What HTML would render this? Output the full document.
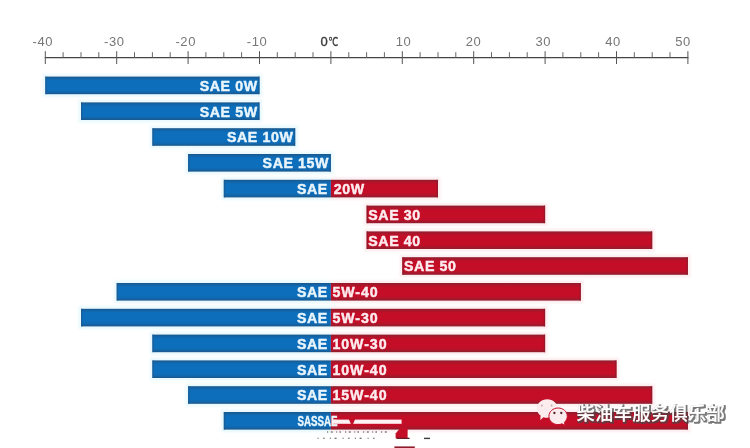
<!DOCTYPE html>
<html lang="zh">
<head>
<meta charset="utf-8">
<title>SAE</title>
<style>
html,body{margin:0;padding:0;background:#fff;}
body{width:750px;height:448px;overflow:hidden;position:relative;}
svg{display:block;position:absolute;left:0;top:0;filter:blur(0.45px);}
.lab{font-family:"Liberation Sans",sans-serif;font-weight:bold;font-size:14.2px;letter-spacing:0.6px;fill:#e9f5fb;stroke:#e9f5fb;stroke-width:0.45px;stroke-linejoin:round;}
.labr{fill:#fdecef;stroke:#fdecef;}
.ax{font-family:"Liberation Sans","Noto Sans CJK SC",sans-serif;font-size:13px;letter-spacing:0.6px;fill:#777;}
.wm{font-family:"Liberation Sans","Noto Sans CJK SC",sans-serif;font-size:18.3px;letter-spacing:0.3px;font-weight:500;fill:#fff;}
</style>
</head>
<body>
<svg width="750" height="448" viewBox="0 0 750 448">
<defs>
<linearGradient id="gb" x1="0" y1="0" x2="0" y2="1">
<stop offset="0" stop-color="#1b5689"/><stop offset="0.12" stop-color="#1266ab"/><stop offset="0.26" stop-color="#0d6fbc"/><stop offset="0.74" stop-color="#0d6fbc"/><stop offset="0.88" stop-color="#1266ab"/><stop offset="1" stop-color="#1b5689"/>
</linearGradient>
<linearGradient id="gr" x1="0" y1="0" x2="0" y2="1">
<stop offset="0" stop-color="#8c1e2e"/><stop offset="0.12" stop-color="#ad152a"/><stop offset="0.26" stop-color="#c40e27"/><stop offset="0.74" stop-color="#c40e27"/><stop offset="0.88" stop-color="#ad152a"/><stop offset="1" stop-color="#8c1e2e"/>
</linearGradient>
<filter id="ws" x="-3%" y="-20%" width="106%" height="140%">
<feMorphology in="SourceAlpha" operator="dilate" radius="0.75" result="d"/>
<feOffset in="d" dx="0.5" dy="0.6" result="o"/>
<feGaussianBlur in="o" stdDeviation="0.25" result="b"/>
<feFlood flood-color="#454545" flood-opacity="0.72"/>
<feComposite in2="b" operator="in" result="sh"/>
<feMerge><feMergeNode in="sh"/><feMergeNode in="SourceGraphic"/></feMerge>
</filter>
<filter id="hb" x="-5%" y="-40%" width="110%" height="180%"><feGaussianBlur stdDeviation="1.3"/></filter>
</defs>
<rect x="0" y="0" width="750" height="448" fill="#ffffff"/>

<g stroke="#555" stroke-width="1" fill="none">
<line x1="44.8" y1="57.6" x2="688.4" y2="57.6" stroke="#454545" stroke-width="1.2"/>
<line x1="45.3" y1="51.2" x2="45.3" y2="64"/>
<line x1="63.1" y1="52.2" x2="63.1" y2="57.6" stroke="#666" stroke-width="1"/>
<line x1="81.0" y1="52.2" x2="81.0" y2="57.6" stroke="#666" stroke-width="1"/>
<line x1="98.8" y1="52.2" x2="98.8" y2="57.6" stroke="#666" stroke-width="1"/>
<line x1="116.7" y1="51.2" x2="116.7" y2="64"/>
<line x1="134.5" y1="52.2" x2="134.5" y2="57.6" stroke="#666" stroke-width="1"/>
<line x1="152.4" y1="52.2" x2="152.4" y2="57.6" stroke="#666" stroke-width="1"/>
<line x1="170.2" y1="52.2" x2="170.2" y2="57.6" stroke="#666" stroke-width="1"/>
<line x1="188.1" y1="51.2" x2="188.1" y2="64"/>
<line x1="205.9" y1="52.2" x2="205.9" y2="57.6" stroke="#666" stroke-width="1"/>
<line x1="223.8" y1="52.2" x2="223.8" y2="57.6" stroke="#666" stroke-width="1"/>
<line x1="241.6" y1="52.2" x2="241.6" y2="57.6" stroke="#666" stroke-width="1"/>
<line x1="259.5" y1="51.2" x2="259.5" y2="64"/>
<line x1="277.3" y1="52.2" x2="277.3" y2="57.6" stroke="#666" stroke-width="1"/>
<line x1="295.2" y1="52.2" x2="295.2" y2="57.6" stroke="#666" stroke-width="1"/>
<line x1="313.0" y1="52.2" x2="313.0" y2="57.6" stroke="#666" stroke-width="1"/>
<line x1="330.9" y1="51.2" x2="330.9" y2="64"/>
<line x1="348.8" y1="52.2" x2="348.8" y2="57.6" stroke="#666" stroke-width="1"/>
<line x1="366.6" y1="52.2" x2="366.6" y2="57.6" stroke="#666" stroke-width="1"/>
<line x1="384.4" y1="52.2" x2="384.4" y2="57.6" stroke="#666" stroke-width="1"/>
<line x1="402.3" y1="51.2" x2="402.3" y2="64"/>
<line x1="420.1" y1="52.2" x2="420.1" y2="57.6" stroke="#666" stroke-width="1"/>
<line x1="438.0" y1="52.2" x2="438.0" y2="57.6" stroke="#666" stroke-width="1"/>
<line x1="455.8" y1="52.2" x2="455.8" y2="57.6" stroke="#666" stroke-width="1"/>
<line x1="473.7" y1="51.2" x2="473.7" y2="64"/>
<line x1="491.5" y1="52.2" x2="491.5" y2="57.6" stroke="#666" stroke-width="1"/>
<line x1="509.4" y1="52.2" x2="509.4" y2="57.6" stroke="#666" stroke-width="1"/>
<line x1="527.2" y1="52.2" x2="527.2" y2="57.6" stroke="#666" stroke-width="1"/>
<line x1="545.1" y1="51.2" x2="545.1" y2="64"/>
<line x1="562.9" y1="52.2" x2="562.9" y2="57.6" stroke="#666" stroke-width="1"/>
<line x1="580.8" y1="52.2" x2="580.8" y2="57.6" stroke="#666" stroke-width="1"/>
<line x1="598.6" y1="52.2" x2="598.6" y2="57.6" stroke="#666" stroke-width="1"/>
<line x1="616.5" y1="51.2" x2="616.5" y2="64"/>
<line x1="634.3" y1="52.2" x2="634.3" y2="57.6" stroke="#666" stroke-width="1"/>
<line x1="652.2" y1="52.2" x2="652.2" y2="57.6" stroke="#666" stroke-width="1"/>
<line x1="670.0" y1="52.2" x2="670.0" y2="57.6" stroke="#666" stroke-width="1"/>
<line x1="687.9" y1="51.2" x2="687.9" y2="64"/>
</g>
<text class="ax" x="53.2" y="46" text-anchor="end">-40</text>
<text class="ax" x="124.6" y="46" text-anchor="end">-30</text>
<text class="ax" x="196.0" y="46" text-anchor="end">-20</text>
<text class="ax" x="267.4" y="46" text-anchor="end">-10</text>
<text class="ax" x="320.6" y="46" style="fill:#3a3a3a;stroke:#3a3a3a;stroke-width:0.35px;letter-spacing:0">0<tspan font-size="11.4px" dx="0.9" textLength="9.6" lengthAdjust="spacingAndGlyphs">℃</tspan></text>
<text class="ax" x="403.6" y="46" text-anchor="middle">10</text>
<text class="ax" x="473.5" y="46" text-anchor="middle">20</text>
<text class="ax" x="543.3" y="46" text-anchor="middle">30</text>
<text class="ax" x="613.1" y="46" text-anchor="middle">40</text>
<text class="ax" x="683.0" y="46" text-anchor="middle">50</text>
<g filter="url(#hb)" opacity="0.55">
<rect x="42.8" y="74.1" width="219.2" height="22.6" fill="#d5f3fc"/>
<rect x="78.5" y="99.9" width="183.5" height="22.6" fill="#d5f3fc"/>
<rect x="149.9" y="125.7" width="147.8" height="22.6" fill="#d5f3fc"/>
<rect x="185.6" y="151.5" width="147.8" height="22.6" fill="#d5f3fc"/>
<rect x="221.3" y="177.3" width="109.6" height="22.6" fill="#d5f3fc"/>
<rect x="330.9" y="177.3" width="109.6" height="22.6" fill="#fbdde1"/>
<rect x="364.1" y="203.1" width="183.5" height="22.6" fill="#fbdde1"/>
<rect x="364.1" y="228.9" width="290.6" height="22.6" fill="#fbdde1"/>
<rect x="399.8" y="254.7" width="290.6" height="22.6" fill="#fbdde1"/>
<rect x="114.2" y="280.5" width="216.7" height="22.6" fill="#d5f3fc"/>
<rect x="330.9" y="280.5" width="252.4" height="22.6" fill="#fbdde1"/>
<rect x="78.5" y="306.3" width="252.4" height="22.6" fill="#d5f3fc"/>
<rect x="330.9" y="306.3" width="216.7" height="22.6" fill="#fbdde1"/>
<rect x="149.9" y="332.1" width="181.0" height="22.6" fill="#d5f3fc"/>
<rect x="330.9" y="332.1" width="216.7" height="22.6" fill="#fbdde1"/>
<rect x="149.9" y="357.9" width="181.0" height="22.6" fill="#d5f3fc"/>
<rect x="330.9" y="357.9" width="288.1" height="22.6" fill="#fbdde1"/>
<rect x="185.6" y="383.7" width="145.3" height="22.6" fill="#d5f3fc"/>
<rect x="330.9" y="383.7" width="323.8" height="22.6" fill="#fbdde1"/>
<rect x="221.3" y="409.5" width="109.6" height="22.6" fill="#d5f3fc"/>
<rect x="330.9" y="409.5" width="359.5" height="22.6" fill="#fbdde1"/>
</g>
<rect x="45.3" y="76.6" width="214.2" height="17.6" fill="url(#gb)"/>
<rect x="45.3" y="76.6" width="1.3" height="17.6" fill="#1e5a8e" opacity=".8"/>
<rect x="258.2" y="76.6" width="1.3" height="17.6" fill="#1e5a8e" opacity=".8"/>
<text class="lab" x="257.7" y="90.8" text-anchor="end">SAE 0W</text>
<rect x="81.0" y="102.4" width="178.5" height="17.6" fill="url(#gb)"/>
<rect x="81.0" y="102.4" width="1.3" height="17.6" fill="#1e5a8e" opacity=".8"/>
<rect x="258.2" y="102.4" width="1.3" height="17.6" fill="#1e5a8e" opacity=".8"/>
<text class="lab" x="257.7" y="116.6" text-anchor="end">SAE 5W</text>
<rect x="152.4" y="128.2" width="142.8" height="17.6" fill="url(#gb)"/>
<rect x="152.4" y="128.2" width="1.3" height="17.6" fill="#1e5a8e" opacity=".8"/>
<rect x="293.9" y="128.2" width="1.3" height="17.6" fill="#1e5a8e" opacity=".8"/>
<text class="lab" x="293.4" y="142.4" text-anchor="end">SAE 10W</text>
<rect x="188.1" y="154.0" width="142.8" height="17.6" fill="url(#gb)"/>
<rect x="188.1" y="154.0" width="1.3" height="17.6" fill="#1e5a8e" opacity=".8"/>
<rect x="329.6" y="154.0" width="1.3" height="17.6" fill="#1e5a8e" opacity=".8"/>
<text class="lab" x="329.1" y="168.2" text-anchor="end">SAE 15W</text>
<rect x="223.8" y="179.8" width="107.1" height="17.6" fill="url(#gb)"/>
<rect x="223.8" y="179.8" width="1.3" height="17.6" fill="#1e5a8e" opacity=".8"/>
<rect x="330.9" y="179.8" width="107.1" height="17.6" fill="url(#gr)"/>
<rect x="436.7" y="179.8" width="1.3" height="17.6" fill="#8a1c2c" opacity=".8"/>
<text class="lab" x="327.9" y="194.0" text-anchor="end">SAE</text>
<text class="lab labr" x="333.7" y="194.0">20W</text>
<rect x="366.6" y="205.6" width="178.5" height="17.6" fill="url(#gr)"/>
<rect x="543.8" y="205.6" width="1.3" height="17.6" fill="#8a1c2c" opacity=".8"/>
<rect x="366.6" y="205.6" width="1.3" height="17.6" fill="#8a1c2c" opacity=".8"/>
<text class="lab labr" x="368.3" y="219.8">SAE 30</text>
<rect x="366.6" y="231.4" width="285.6" height="17.6" fill="url(#gr)"/>
<rect x="650.9" y="231.4" width="1.3" height="17.6" fill="#8a1c2c" opacity=".8"/>
<rect x="366.6" y="231.4" width="1.3" height="17.6" fill="#8a1c2c" opacity=".8"/>
<text class="lab labr" x="368.3" y="245.6">SAE 40</text>
<rect x="402.3" y="257.2" width="285.6" height="17.6" fill="url(#gr)"/>
<rect x="686.6" y="257.2" width="1.3" height="17.6" fill="#8a1c2c" opacity=".8"/>
<rect x="402.3" y="257.2" width="1.3" height="17.6" fill="#8a1c2c" opacity=".8"/>
<text class="lab labr" x="404.0" y="271.4">SAE 50</text>
<rect x="116.7" y="283.0" width="214.2" height="17.6" fill="url(#gb)"/>
<rect x="116.7" y="283.0" width="1.3" height="17.6" fill="#1e5a8e" opacity=".8"/>
<rect x="330.9" y="283.0" width="249.9" height="17.6" fill="url(#gr)"/>
<rect x="579.5" y="283.0" width="1.3" height="17.6" fill="#8a1c2c" opacity=".8"/>
<text class="lab" x="327.9" y="297.2" text-anchor="end">SAE</text>
<text class="lab labr" x="332.4" y="297.2" style="letter-spacing:0.95px">5W-40</text>
<rect x="81.0" y="308.8" width="249.9" height="17.6" fill="url(#gb)"/>
<rect x="81.0" y="308.8" width="1.3" height="17.6" fill="#1e5a8e" opacity=".8"/>
<rect x="330.9" y="308.8" width="214.2" height="17.6" fill="url(#gr)"/>
<rect x="543.8" y="308.8" width="1.3" height="17.6" fill="#8a1c2c" opacity=".8"/>
<text class="lab" x="327.9" y="323.0" text-anchor="end">SAE</text>
<text class="lab labr" x="332.4" y="323.0" style="letter-spacing:0.95px">5W-30</text>
<rect x="152.4" y="334.6" width="178.5" height="17.6" fill="url(#gb)"/>
<rect x="152.4" y="334.6" width="1.3" height="17.6" fill="#1e5a8e" opacity=".8"/>
<rect x="330.9" y="334.6" width="214.2" height="17.6" fill="url(#gr)"/>
<rect x="543.8" y="334.6" width="1.3" height="17.6" fill="#8a1c2c" opacity=".8"/>
<text class="lab" x="327.9" y="348.8" text-anchor="end">SAE</text>
<text class="lab labr" x="332.4" y="348.8" style="letter-spacing:0.95px">10W-30</text>
<rect x="152.4" y="360.4" width="178.5" height="17.6" fill="url(#gb)"/>
<rect x="152.4" y="360.4" width="1.3" height="17.6" fill="#1e5a8e" opacity=".8"/>
<rect x="330.9" y="360.4" width="285.6" height="17.6" fill="url(#gr)"/>
<rect x="615.2" y="360.4" width="1.3" height="17.6" fill="#8a1c2c" opacity=".8"/>
<text class="lab" x="327.9" y="374.6" text-anchor="end">SAE</text>
<text class="lab labr" x="332.4" y="374.6" style="letter-spacing:0.95px">10W-40</text>
<rect x="188.1" y="386.2" width="142.8" height="17.6" fill="url(#gb)"/>
<rect x="188.1" y="386.2" width="1.3" height="17.6" fill="#1e5a8e" opacity=".8"/>
<rect x="330.9" y="386.2" width="321.3" height="17.6" fill="url(#gr)"/>
<rect x="650.9" y="386.2" width="1.3" height="17.6" fill="#8a1c2c" opacity=".8"/>
<text class="lab" x="327.9" y="400.4" text-anchor="end">SAE</text>
<text class="lab labr" x="332.4" y="400.4" style="letter-spacing:0.95px">15W-40</text>
<rect x="223.8" y="412.0" width="107.1" height="17.6" fill="url(#gb)"/>
<rect x="223.8" y="412.0" width="1.3" height="17.6" fill="#1e5a8e" opacity=".8"/>
<rect x="330.9" y="412.0" width="357.0" height="17.6" fill="url(#gr)"/>
<rect x="686.6" y="412.0" width="1.3" height="17.6" fill="#8a1c2c" opacity=".8"/>
<text class="lab" x="297.6" y="426.4" style="letter-spacing:0" textLength="40" lengthAdjust="spacingAndGlyphs">SASSAE</text>
<rect x="332.5" y="419.6" width="69.1" height="4.2" fill="#fdf1f3"/>
<path d="M348.5 418.6 L355.5 418.6 L352.8 424.4 L351.2 424.4 Z" fill="#c40e27"/>
<path d="M400.6 427.5 L407.6 427.5 L407.6 438 L395.6 438 L395.6 433.5 Z" fill="#c40e27"/>
<rect x="396.4" y="437.7" width="13.2" height="1.3" fill="#6e1a26"/>
<rect x="394.4" y="446.4" width="20.4" height="2" fill="#8e1c2a"/>
<rect x="424" y="437.7" width="6" height="1.4" fill="#3c3c3c"/>
<g stroke="#444" stroke-width="1.1" fill="none">
<line x1="327" y1="432" x2="389.5" y2="432" stroke-dasharray="1.2 2.6 2 3.4 1 2.2 1.6 4"/>
<line x1="317.6" y1="438.2" x2="374.5" y2="438.2" stroke-dasharray="1 4.6 1.4 5.2 1 3.8 2 6"/>
</g>
<g>
<path d="M547.2 399.2 C553 399.2 557.5 403.3 557.5 408.5 C557.5 413.7 553 417.8 547.2 417.8 C545.9 417.8 544.6 417.6 543.4 417.2 L540.3 420 L540.6 415.6 C538.3 413.9 536.9 411.3 536.9 408.5 C536.9 403.3 541.4 399.2 547.2 399.2 Z" fill="#fcecee"/>
<path d="M558.1 408 C563.2 408 567.3 411.7 567.3 416.3 C567.3 418.7 566.2 420.8 564.5 422.3 L565 425.4 L562 423.8 C560.8 424.3 559.5 424.6 558.1 424.6 C553 424.6 548.9 420.9 548.9 416.3 C548.9 411.7 553 408 558.1 408 Z" fill="#fcecee" stroke="#c40e27" stroke-width="1"/>
<circle cx="541.9" cy="405.5" r="0.9" fill="#bfa3a8"/><circle cx="551.6" cy="405.5" r="0.9" fill="#bfa3a8"/>
<circle cx="554.4" cy="413" r="1.15" fill="#4a2228"/><circle cx="561.3" cy="413" r="1.15" fill="#4a2228"/>
</g>
<text class="wm" x="576.5" y="419.7" filter="url(#ws)">柴油车服务俱乐部</text>
</svg>
</body>
</html>
